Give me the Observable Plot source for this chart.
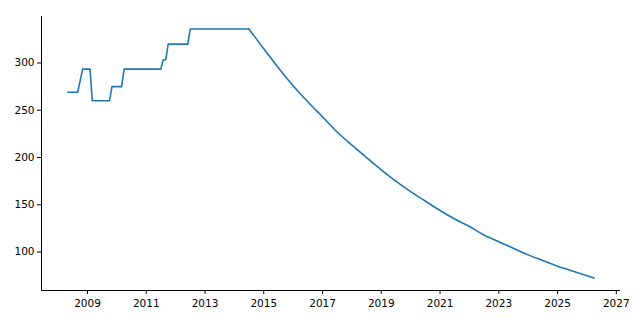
<!DOCTYPE html>
<html><head><meta charset="utf-8">
<script src="https://cdn.jsdelivr.net/npm/d3@7"></script>
<script src="https://cdn.jsdelivr.net/npm/@observablehq/plot@0.6"></script>
<style>body{margin:0;background:#fff}</style>
</head><body><div id="chart"></div>
<script>
// step phase (monthly change points)
const stepDates = ["2008-05","2008-09","2008-10","2008-11","2009-02","2009-03","2009-10","2009-11","2010-03","2010-04","2011-07","2011-08","2011-09","2011-10","2012-06","2012-07","2014-07"];
const stepValues = [269,269,281,293.5,293.5,260,260,275,275,293.5,293.5,303.5,303.5,320,320,336,336];
// decline phase (read every half year)
const declineDates = ["2014-07","2015-01","2015-07","2016-01","2016-07","2017-01","2017-07","2018-01","2018-07","2019-01","2019-07","2020-01","2020-07","2021-01","2021-07","2022-01","2022-07","2023-01","2023-07","2024-01","2024-07","2025-01","2025-07","2026-01","2026-04"];
const declineValues = [336,315,295,276,259,243,227,213,200,187,175,164,154,144,135,127,118,111,104,97,91,85,80,75,72.5];
const xTickYears = [2009,2011,2013,2015,2017,2019,2021,2023,2025,2027];
const yTicks = [100,150,200,250,300];

const parse = d3.utcParse("%Y-%m");
const steps = stepDates.map((d,i)=>({date: parse(d), value: stepValues[i]}));
const decline = declineDates.map((d,i)=>({date: parse(d), value: declineValues[i]}));
const all = steps.concat(decline);
const [x0,x1] = d3.extent(all, d=>d.date);
const xp = (x1-x0)*0.05;
const xDomain = [new Date(+x0-xp), new Date(+x1+xp)];
const [y0,y1] = d3.extent(all, d=>d.value);
const yp = (y1-y0)*0.05;
const yDomain = [y0-yp, y1+yp];

const chart = Plot.plot({
  width:640, height:320, marginLeft:41, marginRight:20, marginTop:16, marginBottom:30,
  style:{fontFamily:'"DejaVu Sans", sans-serif', fontSize:"10.5px", color:"#000", background:"#fff"},
  x:{type:"utc", domain:xDomain, ticks:xTickYears.map(y=>new Date(Date.UTC(y,0,1))), tickFormat:"%Y", tickSize:4, tickPadding:5, label:null},
  y:{domain:yDomain, ticks:yTicks, tickSize:4, tickPadding:3, label:null},
  marks:[
    Plot.ruleX([xDomain[0]], {stroke:"#000"}),
    Plot.ruleY([yDomain[0]], {stroke:"#000"}),
    Plot.line(steps, {x:"date", y:"value", stroke:"#1f77b4", strokeWidth:1.6}),
    Plot.line(decline, {x:"date", y:"value", stroke:"#1f77b4", strokeWidth:1.6, curve:"monotone-x"})
  ]
});
document.getElementById("chart").appendChild(chart);
</script>
</body></html>
